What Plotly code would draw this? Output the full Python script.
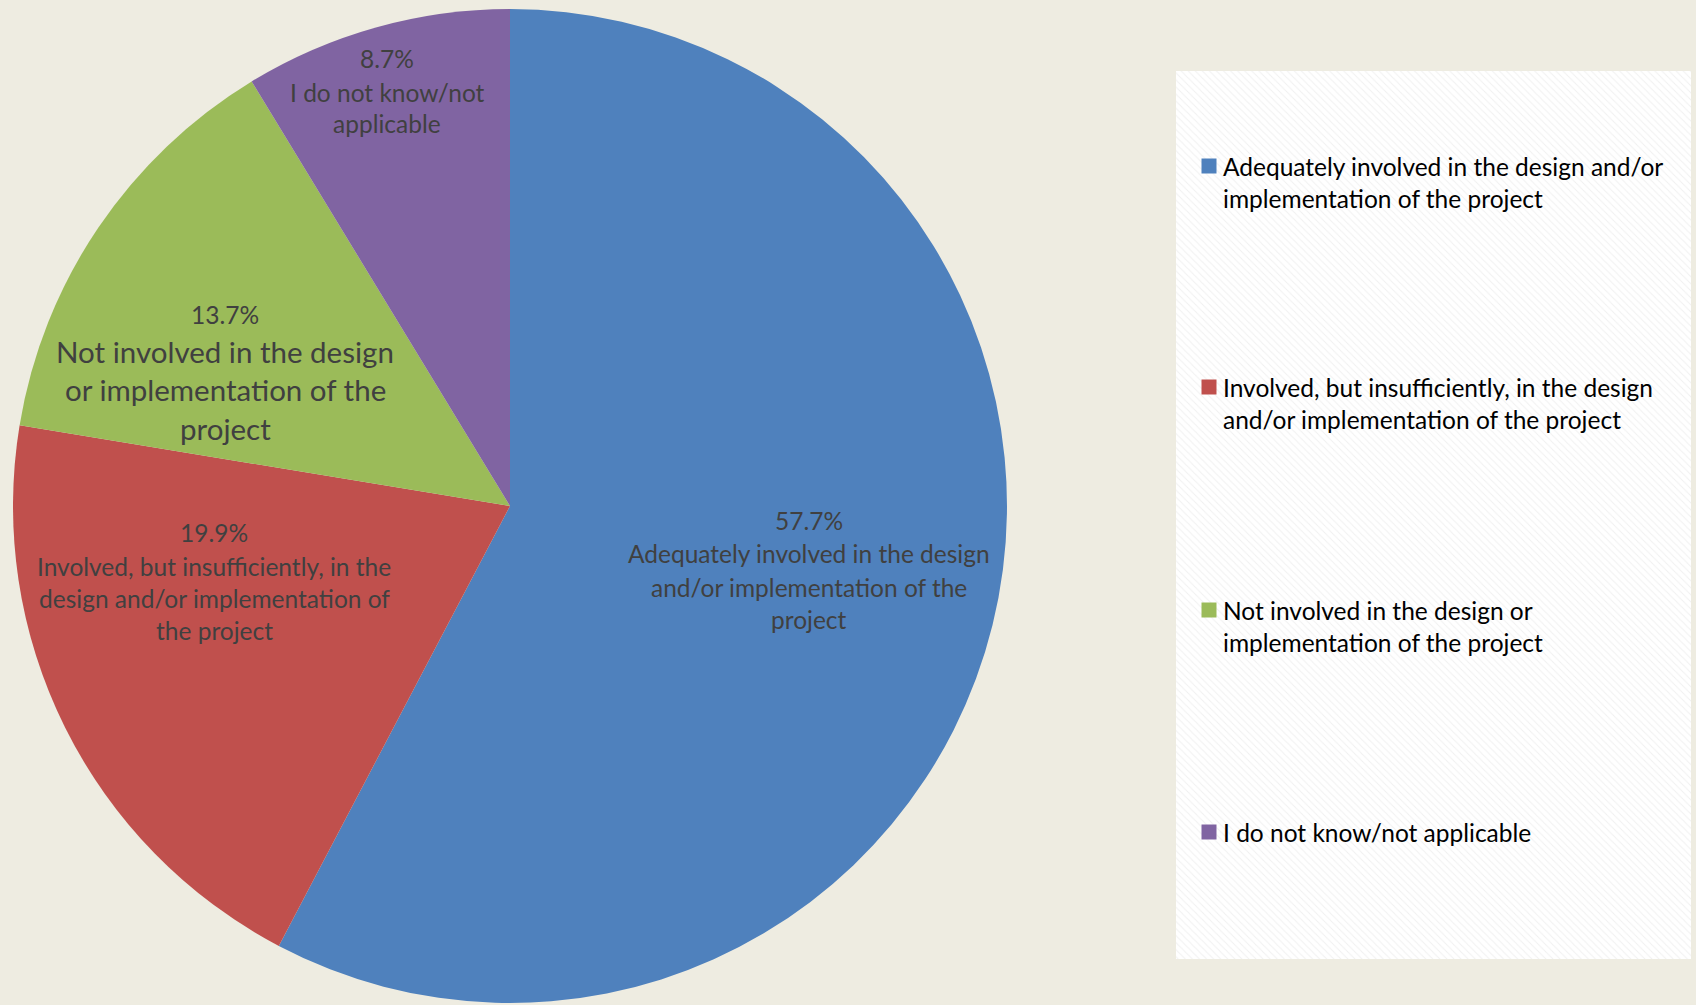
import plotly.graph_objects as go

# ---- data -------------------------------------------------------------
categories = [
    "Adequately involved in the design and/or implementation of the project",
    "Involved, but insufficiently, in the design and/or implementation of the project",
    "Not involved in the design or implementation of the project",
    "I do not know/not applicable",
]
shares = [57.7, 19.9, 13.7, 8.7]

# wrapped text used inside the slices
slice_lines = [
    ["Adequately involved in the design", "and/or implementation of the", "project"],
    ["Involved, but insufficiently, in the", "design and/or implementation of", "the project"],
    ["Not involved in the design", "or implementation of the", "project"],
    ["I do not know/not", "applicable"],
]
# wrapped text used in the legend panel
legend_lines = [
    ["Adequately involved in the design and/or", "implementation of the project"],
    ["Involved, but insufficiently, in the design", "and/or implementation of the project"],
    ["Not involved in the design or", "implementation of the project"],
    ["I do not know/not applicable"],
]

# ---- styling / layout -------------------------------------------------
W, H = 1696, 1005
BG = "#EEECE1"
COLORS = ["#4F81BD", "#C0504D", "#9BBB59", "#8064A2"]
FONT = "Lato, 'Open Sans', sans-serif"
LABEL_COLOR = "#404040"
BASE_SIZE = 24.5

# slice label anchors (pixel x of block centre, pixel y of each line)
slice_label_x = [809, 214, 225, 387]
slice_label_y = [
    [520, 553, 587, 619],
    [532, 566, 598, 630],
    [314, 351, 389, 428],
    [58, 92, 123],
]
slice_label_size = [BASE_SIZE, BASE_SIZE, 29.5, BASE_SIZE]

# legend panel geometry
panel = dict(x0=1176, x1=1691, y0=71, y1=959)
legend_marker_x = 1209
legend_text_x = 1221
legend_first_y = [166, 387, 610, 832]
legend_line_gap = 32

fig = go.Figure()

# hatched legend panel, drawn as a filled polygon in pixel coordinates
fig.add_trace(go.Scatter(
    x=[panel["x0"], panel["x1"], panel["x1"], panel["x0"], panel["x0"]],
    y=[panel["y0"], panel["y0"], panel["y1"], panel["y1"], panel["y0"]],
    mode="lines", line=dict(width=0), fill="toself",
    fillcolor="white",
    fillpattern=dict(shape="\\", fgcolor="#E2E2E2", bgcolor="#FFFFFF",
                     size=5, solidity=0.2),
    hoverinfo="skip", showlegend=False,
))

# legend swatches
fig.add_trace(go.Scatter(
    x=[legend_marker_x] * len(categories),
    y=legend_first_y,
    mode="markers",
    marker=dict(symbol="square", size=15, color=COLORS, line=dict(width=0)),
    hoverinfo="skip", showlegend=False,
))

# the pie itself
fig.add_trace(go.Pie(
    labels=categories,
    values=shares,
    sort=False,
    direction="clockwise",
    rotation=0,
    marker=dict(colors=COLORS, line=dict(width=0)),
    textinfo="none",
    hovertemplate="%{label}<br>%{value:.1f}%<extra></extra>",
    domain=dict(x=[13 / W, 1007 / W], y=[1 - 1003 / H, 1 - 9 / H]),
    showlegend=False,
))

annotations = []
# in-slice labels: percentage line followed by the wrapped category name
for i, (v, lines) in enumerate(zip(shares, slice_lines)):
    texts = [f"{v:.1f}%"] + lines
    for j, (t, y) in enumerate(zip(texts, slice_label_y[i])):
        size = BASE_SIZE if j == 0 else slice_label_size[i]
        annotations.append(dict(
            x=slice_label_x[i], y=y, xref="x", yref="y",
            text=t, showarrow=False, xanchor="center", yanchor="middle",
            font=dict(family=FONT, size=size, color=LABEL_COLOR),
        ))

# legend text
for i, lines in enumerate(legend_lines):
    for j, t in enumerate(lines):
        annotations.append(dict(
            x=legend_text_x, y=legend_first_y[i] + j * legend_line_gap,
            xref="x", yref="y", text=t, showarrow=False,
            xanchor="left", yanchor="middle",
            font=dict(family=FONT, size=BASE_SIZE, color="#000000"),
        ))

fig.update_layout(
    width=W, height=H,
    margin=dict(l=0, r=0, t=0, b=0),
    paper_bgcolor=BG, plot_bgcolor=BG,
    xaxis=dict(range=[0, W], visible=False, fixedrange=True, domain=[0, 1]),
    yaxis=dict(range=[H, 0], visible=False, fixedrange=True, domain=[0, 1]),
    annotations=annotations,
    showlegend=False,
)

fig.write_html("out.html")
